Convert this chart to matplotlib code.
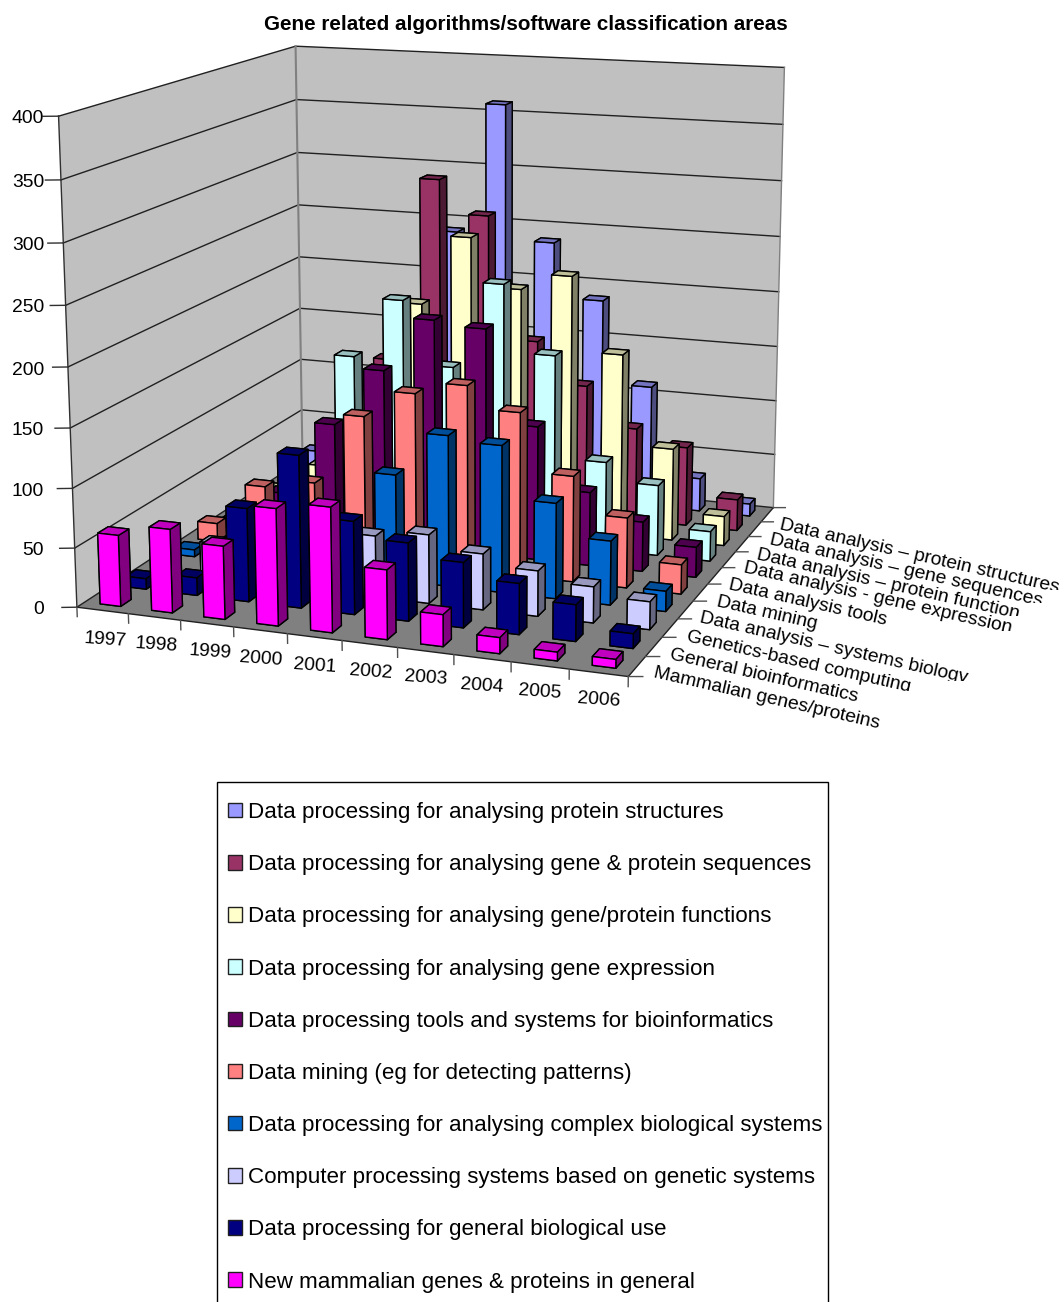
import numpy as np
import matplotlib
matplotlib.use("Agg")
import matplotlib.pyplot as plt
from matplotlib.patches import Patch, Rectangle
from matplotlib.transforms import Bbox
from mpl_toolkits.mplot3d.art3d import Poly3DCollection

plt.rcParams['font.family'] = ['Liberation Sans', 'DejaVu Sans']

years = ['1997', '1998', '1999', '2000', '2001', '2002', '2003', '2004', '2005', '2006']
axis_names = ['Mammalian genes/proteins', 'General bioinformatics', 'Genetics-based computing',
              'Data analysis \u2013 systems biology', 'Data mining', 'Data analysis tools',
              'Data analysis - gene expression', 'Data analysis \u2013 protein function',
              'Data analysis \u2013 gene sequences', 'Data analysis \u2013 protein structures']
legend_names = ['Data processing for analysing protein structures',
                'Data processing for analysing gene & protein sequences',
                'Data processing for analysing gene/protein functions',
                'Data processing for analysing gene expression',
                'Data processing tools and systems for bioinformatics',
                'Data mining (eg for detecting patterns)',
                'Data processing for analysing complex biological systems',
                'Computer processing systems based on genetic systems',
                'Data processing for general biological use',
                'New mammalian genes & proteins in general']
colors = ['#9999FF', '#993366', '#FFFFCC', '#CCFFFF', '#660066',
          '#FF8080', '#0066CC', '#CCCCFF', '#000080', '#FF00FF']

protein_structures = [20, 45, 110, 241, 360, 237, 187, 111, 30, 11]
gene_sequences = [10, 60, 128, 297, 267, 156, 119, 84, 71, 28]
protein_functions = [8, 35, 110, 193, 256, 213, 228, 162, 82, 26]
gene_expression = [5, 30, 152, 206, 150, 227, 168, 78, 62, 26]
tools = [5, 35, 102, 154, 202, 198, 117, 64, 43, 26]
mining = [16, 54, 62, 125, 149, 160, 141, 91, 60, 25]
systems_biology = [6, 15, 15, 40, 91, 129, 125, 81, 54, 17]
genetics = [5, 30, 20, 30, 52, 58, 47, 38, 30, 23]
general = [9, 15, 79, 128, 78, 65, 54, 42, 30, 12]
mammalian = [60, 70, 61, 97, 103, 57, 26, 13, 7, 7]
# back row first, so the list order is also the drawing order
series = [protein_structures, gene_sequences, protein_functions, gene_expression, tools,
          mining, systems_biology, genetics, general, mammalian]

z_ticks = list(range(0, 401, 50))
W, H = 1064, 1302

fig = plt.figure(figsize=(W / 100, H / 100), dpi=100)
ax = fig.add_axes([0, 0, 1, 1], projection='3d', computed_zorder=False)
ax.set_xlim(0, 10)
ax.set_ylim(0, 10)
ax.set_zlim(0, 400)
ax.set_axis_off()
ax.patch.set_visible(False)
ax.view_init(13.155, -69.453, 0.241)
ax.set_proj_type('persp', focal_length=0.5573)
ax.set_box_aspect((1.1597, 1.1437, 1))

# place the square axes so the box lands where it should on the page
scale, ox, oy = 4779.31, 443.9, 327.2
vx0, vx1 = ax.viewLim.intervalx
vy0, vy1 = ax.viewLim.intervaly
left = ox + vx0 * scale
bottom = H - oy + vy0 * scale
side = scale * (vx1 - vx0)
ax.set_position([left / W, bottom / H, side / W, side / H])

# walls and floor
ax.add_collection3d(Poly3DCollection([[(0, 0, 0), (10, 0, 0), (10, 10, 0), (0, 10, 0)]],
                                     facecolor='#808080', edgecolor='none', zorder=1))
ax.add_collection3d(Poly3DCollection([[(0, 0, 0), (0, 10, 0), (0, 10, 400), (0, 0, 400)],
                                      [(0, 10, 0), (10, 10, 0), (10, 10, 400), (0, 10, 400)]],
                                     facecolor='#C0C0C0', edgecolor='none', zorder=1))
for z in z_ticks:
    ax.plot([0, 0, 10], [0, 10, 10], [z, z, z], color='#202020', lw=1, zorder=2)
    ax.plot([0, -0.24], [0, -0.1], [z, z], color='#303030', lw=1, zorder=2)
ax.plot([0, 0], [10, 10], [0, 400], color='#808080', lw=1.5, zorder=2)
ax.plot([0, 0], [0, 0], [0, 400], color='#303030', lw=1, zorder=2)
ax.plot([10, 10], [10, 10], [0, 400], color='#808080', lw=1, zorder=2)
ax.plot([0, 10], [0, 0], [0, 0], color='#202020', lw=1, zorder=2)
ax.plot([10, 10], [0, 10], [0, 0], color='#202020', lw=1, zorder=2)
for i in range(11):
    ax.plot([i, i], [0, 0], [0, -8], color='#505050', lw=1, zorder=2)
    ax.plot([10, 10.22], [i, i + 0.08], [0, 0], color='#505050', lw=1, zorder=2)

# bars, painted back to front and left to right
width = 0.4
order = 3
for row, (values, color) in enumerate(zip(series, colors)):
    c = np.array(matplotlib.colors.to_rgb(color))
    # bottom, top, front, back, left, right
    faces = [c * 0.5, c * 0.75, c, c * 0.5, c * 0.5, c * 0.5]
    for i, v in enumerate(values):
        ax.bar3d(i + 0.3, 9 - row + 0.3, 0, width, width, v, color=faces, shade=False,
                 edgecolor='black', linewidth=1, zorder=order)
        order += 1

for z, ypx in zip(z_ticks, [609.5, 550.5, 491.5, 430.5, 370.5, 307.5, 245.5, 182.5, 118.5]):
    fig.text(44 / W, 1 - ypx / H, str(z), ha='right', va='center', fontsize=13.9)

year_x = [105, 156, 210, 261, 315, 371, 426, 482, 540, 599]
year_y = [640, 645, 652, 659, 666, 672, 678, 686, 692, 700]
for label, x, y in zip(years, year_x, year_y):
    fig.text(x / W, 1 - y / H, label, ha='center', va='center', fontsize=13.9, rotation=-4,
             rotation_mode='anchor')

name_x = [654, 670, 687, 700, 717, 729, 744, 757, 770, 780]
name_y = [673, 655, 637, 618, 602, 585, 568, 555, 540, 525]
# the longer labels lose their lower edge to a horizontal cut
name_cut = [None, None, 691, 681, None, None, 631, 616, 603, 590]
for label, x, y, cut in zip(axis_names, name_x, name_y, name_cut):
    t = fig.text(x / W, 1 - y / H, label, ha='left', va='center', fontsize=13.85, rotation=-12.8,
                 rotation_mode='anchor')
    if cut is not None:
        t.set_clip_box(Bbox([[0, H - cut], [W, H]]))
        t.set_clip_on(True)

fig.text(526 / W, 1 - 25 / H, 'Gene related algorithms/software classification areas',
         ha='center', va='center', fontsize=14.9, fontweight='bold')

fig.add_artist(Rectangle((217 / W, -0.02), 611 / W, 1 - 782 / H + 0.02, facecolor='none',
                         edgecolor='black', lw=1, transform=fig.transFigure))
handles = [Patch(facecolor=c, edgecolor='#202020', lw=1) for c in colors]
fig.legend(handles, legend_names, loc='upper left', bbox_to_anchor=(228 / W, 1 - 802 / H),
           frameon=False, fontsize=16.15, borderpad=0, borderaxespad=0, handlelength=0.62,
           handleheight=0.62, handletextpad=0.28, labelspacing=1.39)

fig.savefig('out.png', dpi=100)
